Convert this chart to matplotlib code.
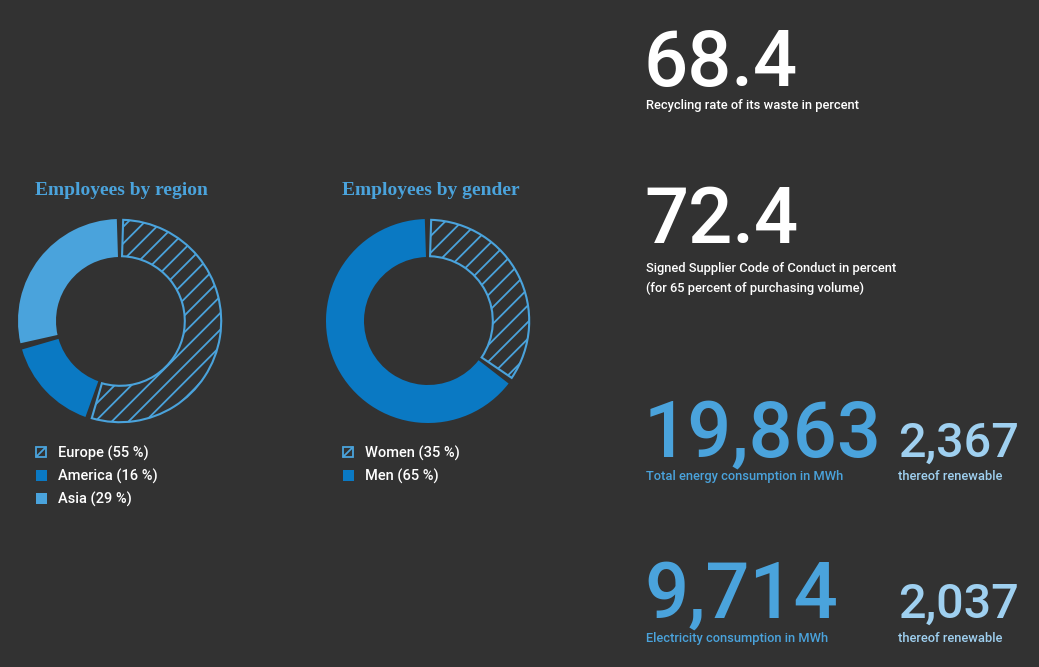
import matplotlib.pyplot as plt
from matplotlib.patches import Wedge, Rectangle

BG = "#323232"
BLUE_LIGHT = "#4aa3dc"
BLUE_DARK = "#0a79c3"
BLUE_PALE = "#9fd0f0"
W, H = 1039, 667

# donut data
region_labels = ["Europe", "America", "Asia"]
region_values = [55, 16, 29]
gender_labels = ["Women", "Men"]
gender_values = [35, 65]

# key figures
kpi_values = ["68.4", "72.4", "19,863", "9,714"]
kpi_captions = [
    ["Recycling rate of its waste in percent"],
    ["Signed Supplier Code of Conduct in percent", "(for 65 percent of purchasing volume)"],
    ["Total energy consumption in MWh"],
    ["Electricity consumption in MWh"],
]
renew_values = ["2,367", "2,037"]
renew_caption = "thereof renewable"

fig = plt.figure(figsize=(W / 100, H / 100), dpi=100, facecolor=BG)
ax = fig.add_axes([0, 0, 1, 1])
ax.set_xlim(0, W)
ax.set_ylim(0, H)
ax.set_aspect("equal")
ax.axis("off")
ax.set_facecolor(BG)
plt.rcParams["hatch.linewidth"] = 1.3

NUM_FONT = "Roboto"
TITLE_FONT = "Liberation Serif"


def Y(y):
    # top-down pixel -> data
    return H - y


def donut(cx, cy, values, styles, r=102, width=38, gap=3.6):
    total = float(sum(values))
    start = 90.0
    for v, st in zip(values, styles):
        span = v / total * 360.0
        t2 = start - gap / 2
        t1 = start - span + gap / 2
        if st == "hatch":
            w = Wedge((cx, Y(cy)), r - 0.8, t1, t2, width=width - 1.6,
                      facecolor="none", edgecolor=BLUE_LIGHT, hatch="//", lw=1.5)
        else:
            w = Wedge((cx, Y(cy)), r, t1, t2, width=width,
                      facecolor=st, edgecolor="none")
        ax.add_patch(w)
        start -= span


def legend(x, y0, labels, values, styles, step=23):
    for i, (lab, v, st) in enumerate(zip(labels, values, styles)):
        yc = y0 + i * step
        s = 11
        if st == "hatch":
            ax.add_patch(Rectangle((x - s / 2 + 0.7, Y(yc) - s / 2 + 0.7), s - 1.4, s - 1.4,
                                   facecolor="none", edgecolor=BLUE_LIGHT, lw=1.3))
            ax.plot([x - s / 2 + 1, x + s / 2 - 1], [Y(yc) - s / 2 + 1, Y(yc) + s / 2 - 1],
                    color=BLUE_LIGHT, lw=1.3)
        else:
            ax.add_patch(Rectangle((x - s / 2, Y(yc) - s / 2), s, s,
                                   facecolor=st, edgecolor="none"))
        ax.text(x + 17, Y(yc + 5.5), f"{lab} ({v} %)", color="white", fontsize=10.5,
                family=NUM_FONT, weight="medium", ha="left", va="baseline")


region_styles = ["hatch", BLUE_DARK, BLUE_LIGHT]
gender_styles = ["hatch", BLUE_DARK]

ax.text(35, Y(195), "Employees by region", color=BLUE_LIGHT, fontsize=14,
        family=TITLE_FONT, weight="bold", ha="left", va="baseline")
ax.text(342, Y(195), "Employees by gender", color=BLUE_LIGHT, fontsize=14,
        family=TITLE_FONT, weight="bold", ha="left", va="baseline")

donut(120, 321, region_values, region_styles)
donut(428, 321, gender_values, gender_styles)
legend(41, 452, region_labels, region_values, region_styles)
legend(348, 452, gender_labels, gender_values, gender_styles)

# KPI block
kpi_base = [86, 243, 457, 618]
cap_base = [109, 272, 480, 642]
kpi_colors = ["white", "white", BLUE_LIGHT, BLUE_LIGHT]
for val, caps, yb, yc, col in zip(kpi_values, kpi_captions, kpi_base, cap_base, kpi_colors):
    ax.text(644, Y(yb), val, color=col, fontsize=56, family=NUM_FONT,
            weight="medium", ha="left", va="baseline")
    for j, c in enumerate(caps):
        ax.text(646, Y(yc + j * 20), c, color=col, fontsize=9.3, family=NUM_FONT,
                weight="medium", ha="left", va="baseline")

for val, yb, yc in zip(renew_values, kpi_base[2:], cap_base[2:]):
    ax.text(898, Y(yb), val, color=BLUE_PALE, fontsize=35, family=NUM_FONT,
            weight="medium", ha="left", va="baseline")
    ax.text(898, Y(yc), renew_caption, color=BLUE_PALE, fontsize=9.3,
            family=NUM_FONT, weight="medium", ha="left", va="baseline")

fig.savefig("out.png", dpi=100, facecolor=BG)
